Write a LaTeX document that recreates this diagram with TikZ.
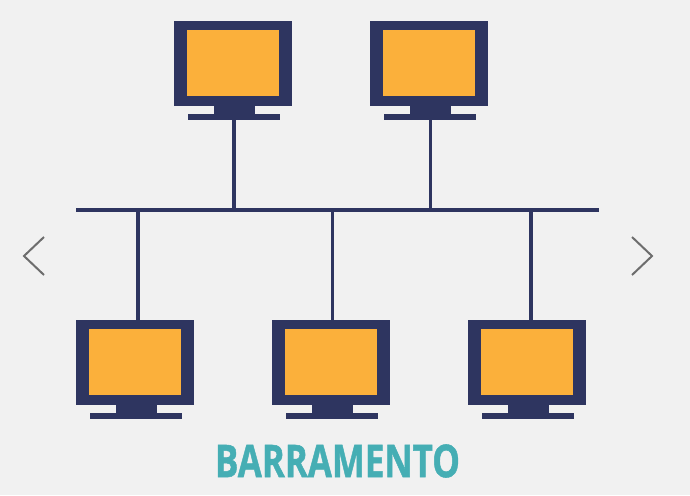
\documentclass[tikz,border=0pt]{standalone}
\usepackage{fontspec}
\setmainfont[BoldFeatures={FakeBold=1.2}]{Open Sans}
\usetikzlibrary{calc}
\definecolor{BgClr}{HTML}{F1F1F1}
\definecolor{FrameClr}{HTML}{2E3560}
\definecolor{ScreenClr}{HTML}{FBB03B}
\definecolor{TitleClr}{HTML}{45AEB4}
\definecolor{ArrowClr}{HTML}{6D6D6D}
\tikzset{
  frame/.style={fill=FrameClr,draw=none,inner sep=0pt,minimum width=118pt,minimum height=85pt},
  screen/.style={fill=ScreenClr,draw=none,inner sep=0pt,minimum width=92pt,minimum height=66pt},
  wire/.style={draw=FrameClr,line width=3.3pt},
  chevron/.style={draw=ArrowClr,line width=2pt}
}
% one monitor: name, centre of the frame, offset of the wire
\newcommand{\Monitor}[3]{
  \node[frame] (#1) at (#2) {};
  \node[screen] (#1s) at ($(#1)+(0,-0.5)$) {};
  \fill[FrameClr] ($(#1.south)+(-19.5,0)$) rectangle ($(#1.south)+(21.5,9)$);
  \fill[FrameClr] ($(#1.south)+(-45,8)$) rectangle ($(#1.south)+(47,13.5)$);
  \coordinate (#1w) at ($(#1)+(#3,0)$);
}
\begin{document}
\begin{tikzpicture}[x=1pt,y=-1pt]
\useasboundingbox[fill=BgClr] (0,0) rectangle (690,495);

\coordinate (BusL) at (76,210);
\coordinate (BusR) at (599,210);

\Monitor{MonA}{233,63.5}{1}
\Monitor{MonB}{429,63.5}{1.5}
\Monitor{MonC}{135,362.5}{3}
\Monitor{MonD}{331,362.5}{1.5}
\Monitor{MonE}{527,362.5}{4}

\draw[wire] (BusL) -- (BusR);

\draw[wire] (MonAw |- MonA.south) ++(0,13) -- (MonAw |- BusL);
\draw[wire] (MonBw |- MonB.south) ++(0,13) -- (MonBw |- BusL);
\draw[wire] (MonCw |- MonC.north) -- (MonCw |- BusL);
\draw[wire] (MonDw |- MonD.north) -- (MonDw |- BusL);
\draw[wire] (MonEw |- MonE.north) -- (MonEw |- BusL);

\coordinate (PrevT) at (44,237);
\coordinate (PrevM) at (24,256);
\coordinate (PrevB) at (44,275);
\coordinate (NextT) at (632,237);
\coordinate (NextM) at (652,256);
\coordinate (NextB) at (632,275);
\draw[chevron] (PrevT) -- (PrevM) -- (PrevB);
\draw[chevron] (NextT) -- (NextM) -- (NextB);

\node[text=TitleClr,xscale=0.775,inner sep=0pt] (Title) at (337.5,461)
  {\fontsize{45}{45}\selectfont\bfseries BARRAMENTO};
\end{tikzpicture}
\end{document}
